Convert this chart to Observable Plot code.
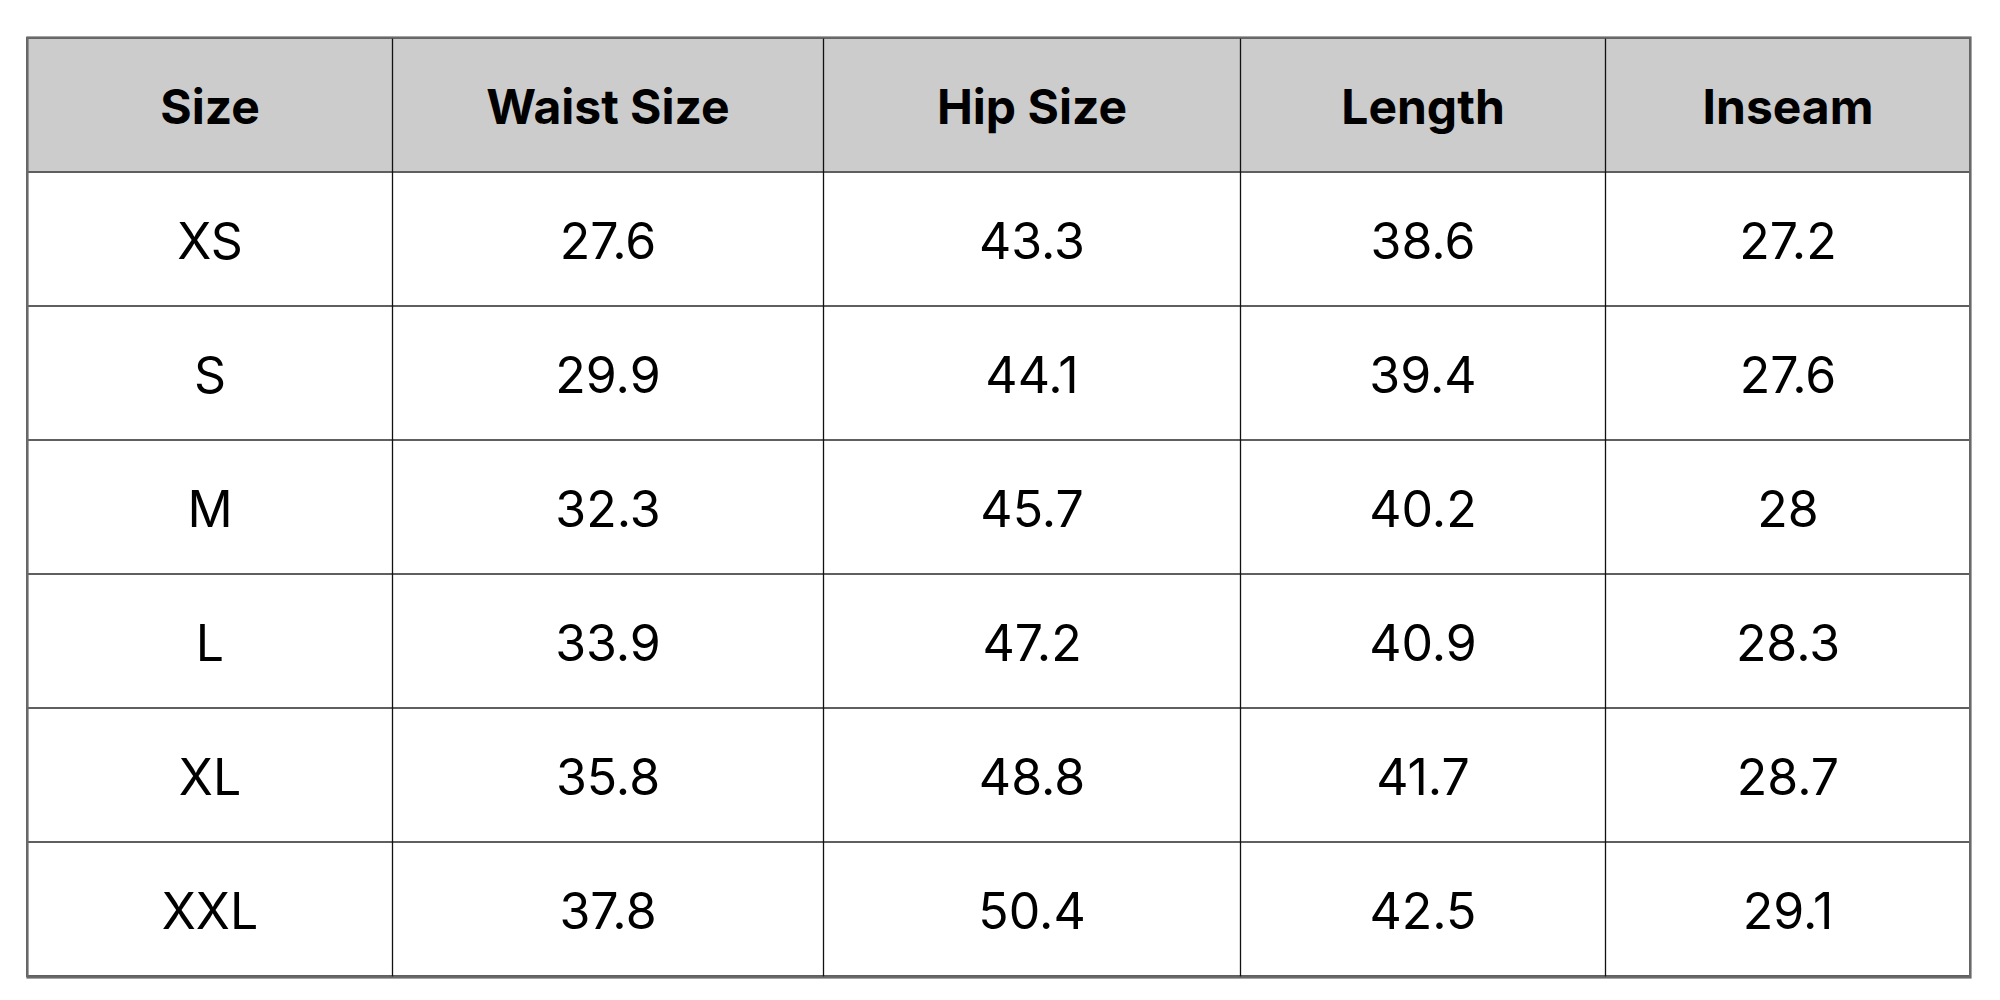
<!DOCTYPE html>
<html>
<head>
<meta charset="utf-8">
<script src="https://cdn.jsdelivr.net/npm/d3@7"></script>
<script src="https://cdn.jsdelivr.net/npm/@observablehq/plot@0.6"></script>
<style>
  html, body { margin: 0; padding: 0; background: #ffffff; }
  #chart svg { display: block; }
</style>
</head>
<body>
<div id="chart"></div>
<script>
// ---- data ----
const headers = ["Size", "Waist Size", "Hip Size", "Length", "Inseam"];
const sizes = ["XS", "S", "M", "L", "XL", "XXL"];
const waist = [27.6, 29.9, 32.3, 33.9, 35.8, 37.8];
const hip = [43.3, 44.1, 45.7, 47.2, 48.8, 50.4];
const lengthV = [38.6, 39.4, 40.2, 40.9, 41.7, 42.5];
const inseam = [27.2, 27.6, 28, 28.3, 28.7, 29.1];

// ---- layout (column widths in px-like units) ----
const colWidths = [365, 431, 417, 365, 365];
const edges = [0];
colWidths.forEach(w => edges.push(edges[edges.length - 1] + w));
const total = edges[edges.length - 1];
const centers = colWidths.map((w, i) => edges[i] + w / 2);

const HEADER = "__header__";
const rowKeys = [HEADER, ...sizes];

const headerCells = headers.map((h, i) => ({label: h, x: centers[i], row: HEADER}));
const dataCells = [];
sizes.forEach((s, r) => {
  const vals = [s, waist[r], hip[r], lengthV[r], inseam[r]];
  vals.forEach((v, c) => dataCells.push({label: String(v), x: centers[c], row: s}));
});
const rows = rowKeys.map(k => ({row: k}));

const font = "Inter, 'Noto Sans', sans-serif";

const chart = Plot.plot({
  width: 2000,
  height: 1000,
  marginLeft: 27,
  marginRight: 30,
  marginTop: 37,
  marginBottom: 23,
  x: {domain: [0, total], axis: null},
  y: {domain: rowKeys, type: "band", padding: 0, axis: null},
  style: {fontFamily: font, background: "#ffffff"},
  marks: [
    Plot.barX([{row: HEADER}], {x1: 0, x2: total, y: "row", fill: "#cccccc"}),
    Plot.barX(rows, {x1: 0, x2: total, y: "row", fill: "none", stroke: "#5f5f5f", strokeWidth: 2}),
    Plot.ruleX(edges.slice(1, -1), {stroke: "#111111", strokeWidth: 1.3}),
    Plot.frame({stroke: "#6a6a6a", strokeWidth: 2.2}),
    Plot.text(headerCells, {x: "x", y: "row", text: "label", fontSize: 48, fontWeight: "bold", fill: "#000000", dy: 3}),
    Plot.text(dataCells, {x: "x", y: "row", text: "label", fontSize: 50, fontWeight: "normal", fill: "#000000", dy: 3})
  ]
});
document.getElementById("chart").appendChild(chart);
</script>
</body>
</html>
